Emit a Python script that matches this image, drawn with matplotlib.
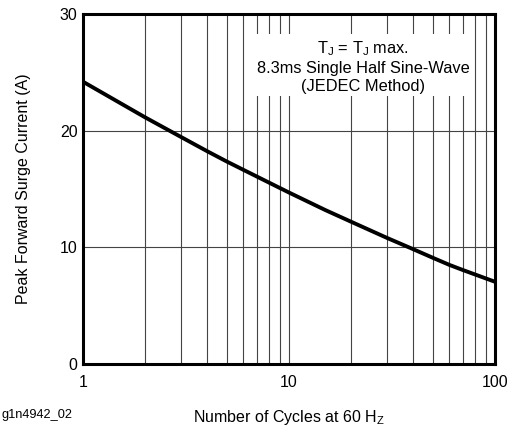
import matplotlib
matplotlib.use('Agg')
import matplotlib.pyplot as plt
from matplotlib.ticker import LogLocator, FixedLocator, NullFormatter

plt.rcParams['font.family'] = ['Liberation Sans', 'DejaVu Sans']

# data
cycles = [1, 2, 3, 4, 5, 6, 8, 10, 15, 20, 30, 40, 50, 60, 70, 100]
surge_current = [24.2, 21.15, 19.45, 18.25, 17.35, 16.65, 15.55, 14.7, 13.2, 12.2,
                 10.8, 9.85, 9.1, 8.5, 8.05, 7.05]

x_ticks = [1, 10, 100]
x_tick_labels = ['1', '10', '100']
y_ticks = [0, 10, 20, 30]

fig = plt.figure(figsize=(5.11, 4.26), dpi=100)
ax = fig.add_axes([0.1624, 0.1455, 0.8063, 0.8215])

ax.set_xscale('log')
ax.set_xlim(1, 100)
ax.set_ylim(0, 30)

ax.plot(cycles, surge_current, color='black', linewidth=2.8, solid_capstyle='butt',
        solid_joinstyle='round', zorder=3)

ax.xaxis.set_major_locator(FixedLocator(x_ticks))
ax.set_xticklabels(x_tick_labels)
ax.xaxis.set_minor_locator(LogLocator(base=10, subs=range(2, 10)))
ax.xaxis.set_minor_formatter(NullFormatter())
ax.set_yticks(y_ticks)

ax.grid(True, which='both', axis='x', color='#444444', linewidth=0.8)
ax.grid(True, which='major', axis='y', color='#444444', linewidth=0.8)
ax.tick_params(which='both', length=0, labelsize=11.5, pad=4)
ax.tick_params(axis='x', pad=8)

for s in ax.spines.values():
    s.set_linewidth(2.2)
    s.set_zorder(4)

ax.set_xlabel('Number of Cycles at 60 H$_\\mathregular{Z}$', fontsize=11.5, labelpad=13)
ax.set_ylabel('Peak Forward Surge Current (A)', fontsize=11.5, labelpad=21)

ax.text(0.68, 0.851,
        'T$_\\mathregular{J}$ = T$_\\mathregular{J}$ max.\n8.3ms Single Half Sine-Wave\n(JEDEC Method)',
        transform=ax.transAxes, ha='center', va='center', fontsize=11.8, linespacing=1.25,
        bbox=dict(facecolor='white', edgecolor='none', pad=2), zorder=5)

# figure id (only the part visible in the original)
fig.text(2 / 511, 1 - 415 / 426, 'g1n4942_02', ha='left', va='center', fontsize=9.2)

fig.savefig('out.png', dpi=100)
